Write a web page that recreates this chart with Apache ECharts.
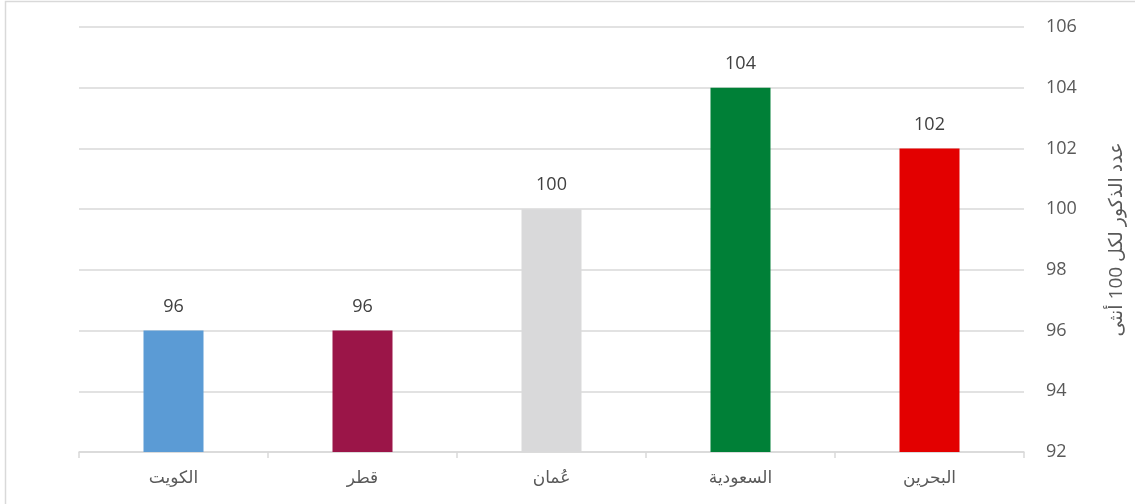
<!DOCTYPE html>
<html>
<head>
<meta charset="utf-8">
<script src="https://cdn.jsdelivr.net/npm/echarts@6/dist/echarts.min.js"></script>
<style>
  html, body { margin: 0; padding: 0; background: #fff; }
  #chart { width: 1135px; height: 504px; }
</style>
</head>
<body>
<div id="chart"></div>
<script>
// Sex ratio by country (males per 100 females)
const countries = ['الكويت', 'قطر', 'عُمان', 'السعودية', 'البحرين'];
const ratios = [96, 96, 100, 104, 102];
const barColors = ['#5B9BD5', '#9B1548', '#D9D9DA', '#008037', '#E30000'];
const axisTitle = 'عدد الذكور لكل 100 أنثى';
const yMin = 92, yMax = 106, yStep = 2;

const textColor = '#595959';
const fontStack = '"Open Sans", "Noto Sans", "DejaVu Sans", sans-serif';

const chart = echarts.init(document.getElementById('chart'), null, { renderer: 'canvas' });

chart.setOption({
  animation: false,
  backgroundColor: '#ffffff',
  graphic: [{
    type: 'rect',
    shape: { x: 5.5, y: 1.5, width: 1300, height: 700 },
    style: { fill: 'none', stroke: '#D9D9D9', lineWidth: 1.5 },
    silent: true
  }],
  grid: { left: 79, right: 111, top: 27, bottom: 52 },
  xAxis: {
    type: 'category',
    data: countries,
    axisLine: { lineStyle: { color: '#D9D9D9', width: 1.5 } },
    axisTick: { show: true, length: 6, lineStyle: { color: '#D9D9D9', width: 1.5 } },
    axisLabel: { color: textColor, fontSize: 17, margin: 18, fontFamily: fontStack }
  },
  yAxis: {
    type: 'value',
    position: 'right',
    min: yMin, max: yMax, interval: yStep,
    axisLine: { show: false },
    axisTick: { show: false },
    splitLine: { lineStyle: { color: '#D9D9D9', width: 1.5 } },
    axisLabel: { color: textColor, fontSize: 18, margin: 22, fontFamily: fontStack },
    name: axisTitle,
    nameLocation: 'middle',
    nameRotate: 90,
    nameGap: 83,
    nameTextStyle: { color: textColor, fontSize: 19, fontFamily: fontStack }
  },
  series: [{
    type: 'bar',
    barWidth: 60,
    data: ratios.map((v, i) => ({ value: v, itemStyle: { color: barColors[i] } })),
    label: {
      show: true,
      position: 'top',
      distance: 15,
      color: '#404040',
      fontSize: 18,
      fontFamily: fontStack
    }
  }]
});
</script>
</body>
</html>
